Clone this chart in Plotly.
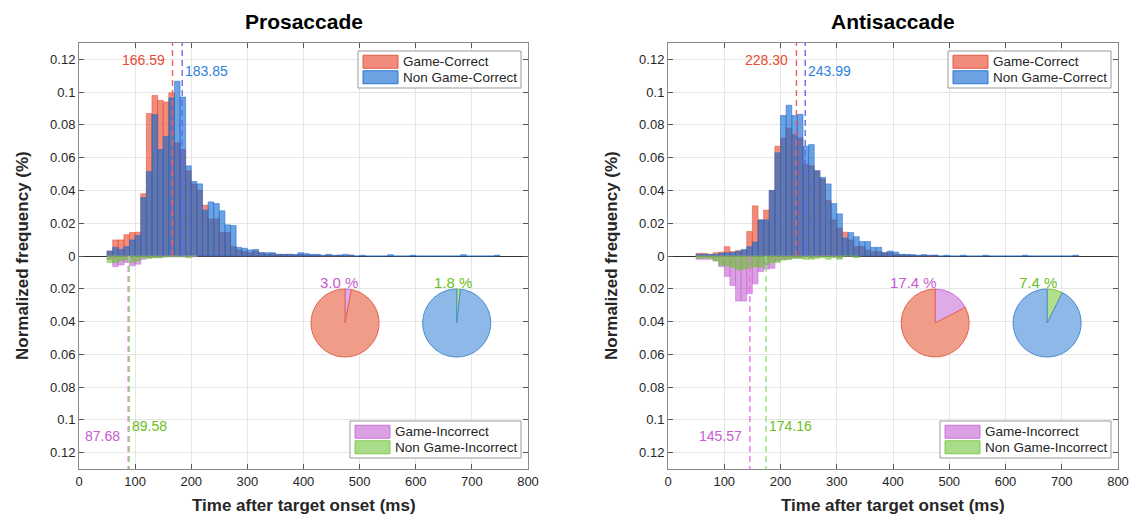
import plotly.graph_objects as go

# ---------------- data ----------------
BIN_START = 50
BIN_WIDTH = 10

pro_game_correct = [0.003, 0.0098, 0.0098, 0.013, 0.0143, 0.0145, 0.038, 0.087, 0.098, 0.095,
                    0.094, 0.0996, 0.069, 0.065, 0.052, 0.044, 0.040, 0.031, 0.0226, 0.0226,
                    0.0143, 0.0143, 0.0057, 0.0037, 0.0027, 0.002, 0.003, 0.002, 0.001, 0.0015,
                    0.001, 0.001, 0.001, 0.0005, 0.001, 0.0005, 0.0005, 0.0005, 0, 0.0005,
                    0, 0.0005, 0, 0.0005]
pro_nongame_correct = [0.003, 0.0053, 0.004, 0.0057, 0.0098, 0.0125, 0.0357, 0.0516,
                       0.0863, 0.065, 0.073, 0.0965, 0.1067, 0.097, 0.055, 0.0455,
                       0.044, 0.028, 0.033, 0.032, 0.0276, 0.019, 0.0186, 0.0053,
                       0.0047, 0.0037, 0.004, 0.002, 0.002, 0.002, 0.001, 0.001,
                       0.001, 0.001, 0.002, 0.0015, 0.001, 0.001, 0.0005, 0.001,
                       0.0005, 0.0005, 0.001, 0.0005, 0, 0.0005, 0, 0,
                       0, 0, 0.0008, 0, 0, 0, 0.0005, 0,
                       0, 0, 0, 0, 0, 0, 0, 0.0008,
                       0, 0, 0, 0, 0, 0.0005]
pro_game_incorrect = [0.002, 0.0065, 0.0055, 0.004, 0.006, 0.005, 0.002, 0.001, 0.001, 0.001,
                      0.0005, 0.0005, 0.0005, 0.0005, 0.0005, 0.0005]
pro_nongame_incorrect = [0.004, 0.004, 0.003, 0.0025, 0.004, 0.003, 0.001, 0.0015, 0.001, 0.001,
                         0.0005, 0, 0.0005, 0, 0.001, 0]

anti_game_correct = [0.0016, 0.0016, 0.001, 0.002, 0.0024, 0.0057, 0.0027, 0.0033, 0.0033, 0.015,
                     0.0306, 0.022, 0.028, 0.040, 0.067, 0.072, 0.078, 0.074, 0.072, 0.056,
                     0.055, 0.052, 0.047, 0.034, 0.022, 0.017, 0.0145, 0.0098, 0.0057, 0.0057,
                     0.0037, 0.0027, 0.0027, 0.002, 0.002, 0.001, 0.0008, 0.0005, 0.0005, 0,
                     0.0005, 0, 0.0005]
anti_nongame_correct = [0.001, 0.001, 0.001, 0.001, 0.0016, 0.002, 0.002, 0.0027, 0.004, 0.0057,
                        0.0085, 0.022, 0.022, 0.040, 0.063, 0.0857, 0.092, 0.0857, 0.0865, 0.067,
                        0.068, 0.052, 0.048, 0.044, 0.032, 0.0257, 0.011, 0.0143, 0.0118, 0.0088,
                        0.0088, 0.0053, 0.0053, 0.002, 0.003, 0.0024, 0.001, 0.001, 0.0008, 0.0005,
                        0.0008, 0.0005, 0.0005, 0, 0.0005, 0, 0, 0.0005, 0, 0,
                        0, 0.0005, 0, 0, 0, 0, 0, 0, 0.0005, 0,
                        0, 0, 0, 0, 0, 0, 0, 0.0005]
anti_game_incorrect = [0.002, 0.002, 0.002, 0.003, 0.0065, 0.0125, 0.018, 0.0275, 0.0275, 0.023,
                       0.017, 0.0095, 0.008, 0.0075, 0.003, 0.002, 0.002, 0.001, 0.001, 0.0005,
                       0.001, 0.0005, 0, 0, 0.0005, 0.001]
anti_nongame_incorrect = [0.0015, 0.001, 0.0015, 0.003, 0.0055, 0.006, 0.007, 0.0085, 0.008, 0.0075,
                          0.0065, 0.007, 0.0055, 0.004, 0.004, 0.0025, 0.002, 0.0015, 0.0015, 0.002,
                          0.002, 0.0015, 0.001, 0.002, 0.001, 0.002, 0, 0, 0.001]

pro_means = {"gc": 166.59, "ngc": 183.85, "gi": 87.68, "ngi": 89.58}
anti_means = {"gc": 228.30, "ngc": 243.99, "gi": 145.57, "ngi": 174.16}
pro_error_pct = {"game": 3.0, "nongame": 1.8}
anti_error_pct = {"game": 17.4, "nongame": 7.4}

series_names = ["Game-Correct", "Non Game-Correct", "Game-Incorrect", "Non Game-Incorrect"]
x_ticks = [0, 100, 200, 300, 400, 500, 600, 700, 800]
y_ticks = [-0.12, -0.1, -0.08, -0.06, -0.04, -0.02, 0, 0.02, 0.04, 0.06, 0.08, 0.1, 0.12]
y_ticktext = ["0.12", "0.1", "0.08", "0.06", "0.04", "0.02", "0", "0.02", "0.04", "0.06", "0.08", "0.1", "0.12"]

# ---------------- style ----------------
W, H = 1135, 519
FONT = "Liberation Sans, Arial, Helvetica, sans-serif"
TXT = "#262626"
C_GC = "rgba(232,70,40,0.62)"
C_GC_E = "rgba(225,80,55,0.9)"
C_NGC = "rgba(10,100,205,0.6)"
C_NGC_E = "rgba(30,110,210,0.9)"
C_GI = "rgba(190,80,205,0.55)"
C_GI_E = "rgba(200,110,215,0.9)"
C_NGI = "rgba(100,190,40,0.55)"
C_NGI_E = "rgba(120,200,70,0.9)"

L_GC = "rgb(240,95,95)"
L_NGC = "rgb(105,105,240)"
L_GI = "rgb(235,115,235)"
L_NGI = "rgb(140,230,120)"

T_GC = "rgb(232,75,45)"
T_NGC = "rgb(45,130,220)"
T_GI = "rgb(200,90,210)"
T_NGI = "rgb(105,190,35)"

PANELS = [
    dict(xa="x", ya="y", px=(79, 528), title="Prosaccade",
         data=(pro_game_correct, pro_nongame_correct, pro_game_incorrect, pro_nongame_incorrect),
         means=pro_means, pct=pro_error_pct,
         pie_ms=(474, 673), pct_ms=(463, 666)),
    dict(xa="x2", ya="y2", px=(668, 1118), title="Antisaccade",
         data=(anti_game_correct, anti_nongame_correct, anti_game_incorrect, anti_nongame_incorrect),
         means=anti_means, pct=anti_error_pct,
         pie_ms=(475, 674), pct_ms=(437, 658)),
]
TOP, BOT = 43, 469
YMAX = 0.13


def centers(n):
    return [BIN_START + BIN_WIDTH / 2 + BIN_WIDTH * i for i in range(n)]


def fx(p):
    return p / W


def fy(p):
    return 1 - p / H


fig = go.Figure()
annotations = []
shapes = []


def add_legend(right_px, top_px, names, fills, edges, box_w):
    row_h = 15.5
    box_h = 2 * row_h + 6
    left = right_px - box_w
    shapes.append(dict(type="rect", xref="paper", yref="paper",
                       x0=fx(left), x1=fx(right_px), y0=fy(top_px + box_h), y1=fy(top_px),
                       line=dict(color="#9a9a9a", width=1), fillcolor="white", layer="above"))
    for i, (nm, fc, ec) in enumerate(zip(names, fills, edges)):
        cy = top_px + 3 + row_h * (i + 0.5)
        shapes.append(dict(type="rect", xref="paper", yref="paper",
                           x0=fx(left + 5), x1=fx(left + 40), y0=fy(cy + 6.5), y1=fy(cy - 6.5),
                           line=dict(color=ec, width=1), fillcolor=fc, layer="above"))
        annotations.append(dict(x=fx(left + 43), y=fy(cy), xref="paper", yref="paper",
                                text=nm, showarrow=False, xanchor="left", yanchor="middle",
                                font=dict(family=FONT, size=13.5, color=TXT)))


for p in PANELS:
    gc, ngc, gi, ngi = p["data"]
    specs = [
        (gc, 1, series_names[0], C_GC, C_GC_E),
        (ngc, 1, series_names[1], C_NGC, C_NGC_E),
        (gi, -1, series_names[2], C_GI, C_GI_E),
        (ngi, -1, series_names[3], C_NGI, C_NGI_E),
    ]
    for vals, sign, name, col, ecol in specs:
        fig.add_trace(go.Bar(
            x=centers(len(vals)), y=[sign * v for v in vals], width=BIN_WIDTH,
            name=name, showlegend=False, xaxis=p["xa"], yaxis=p["ya"],
            marker=dict(color=col, line=dict(color=ecol, width=0.6)),
            hoverinfo="skip"))

    m = p["means"]
    for key, col, y0, y1 in [("gc", L_GC, 0, YMAX), ("ngc", L_NGC, 0, YMAX),
                             ("gi", L_GI, 0, -YMAX), ("ngi", L_NGI, 0, -YMAX)]:
        fig.add_trace(go.Scatter(
            x=[m[key], m[key]], y=[y0, y1], mode="lines", showlegend=False,
            xaxis=p["xa"], yaxis=p["ya"], hoverinfo="skip",
            line=dict(color=col, width=1.4, dash="6px,4px")))

    for key, col, yv, anchor, shift in [("gc", T_GC, 0.1195, "right", -6),
                                         ("ngc", T_NGC, 0.1130, "left", 1),
                                         ("gi", T_GI, -0.1100, "right", -6),
                                         ("ngi", T_NGI, -0.1040, "left", 1)]:
        annotations.append(dict(
            x=m[key], y=yv, xref=p["xa"], yref=p["ya"], text=f"{m[key]:.2f}",
            showarrow=False, xanchor=anchor, yanchor="middle", xshift=shift,
            font=dict(family=FONT, size=14, color=col)))

    # pies
    x0px, x1px = p["px"]
    sc = (x1px - x0px) / 800.0
    cy = 323
    r = 34
    pie_specs = [
        (p["pct"]["game"], ["rgba(222,170,232,1)", "rgba(239,156,136,1)"],
         ["rgb(205,110,215)", "rgb(228,100,75)"], T_GI),
        (p["pct"]["nongame"], ["rgba(178,224,138,1)", "rgba(142,184,232,1)"],
         ["rgb(120,195,60)", "rgb(70,140,212)"], T_NGI),
    ]
    for i, (pct, cols, ecols, tcol) in enumerate(pie_specs):
        cx = x0px + p["pie_ms"][i] * sc
        fig.add_trace(go.Pie(
            values=[pct, 100 - pct], sort=False, direction="counterclockwise", rotation=0,
            textinfo="none", hoverinfo="skip", showlegend=False, automargin=False,
            marker=dict(colors=cols, line=dict(color=ecols, width=1)),
            domain=dict(x=[(cx - r) / W, (cx + r) / W], y=[1 - (cy + r) / H, 1 - (cy - r) / H])))
        tx = x0px + p["pct_ms"][i] * sc
        annotations.append(dict(
            x=tx / W, y=1 - 282 / H, xref="paper", yref="paper", text=f"{pct:.1f} %",
            showarrow=False, xanchor="center", yanchor="middle",
            font=dict(family=FONT, size=15, color=tcol)))

    cxp = (x0px + x1px) / 2
    annotations.append(dict(x=cxp / W, y=1 - 22 / H, xref="paper", yref="paper",
                            text=f"<b>{p['title']}</b>", showarrow=False,
                            xanchor="center", yanchor="middle",
                            font=dict(family=FONT, size=21, color="black")))
    annotations.append(dict(x=cxp / W, y=1 - 505 / H, xref="paper", yref="paper",
                            text="<b>Time after target onset (ms)</b>", showarrow=False,
                            xanchor="center", yanchor="middle",
                            font=dict(family=FONT, size=17, color=TXT)))
    annotations.append(dict(x=(x0px - 57) / W, y=1 - ((TOP + BOT) / 2) / H, xref="paper", yref="paper",
                            text="<b>Normalized frequency (%)</b>", showarrow=False, textangle=-90,
                            xanchor="center", yanchor="middle",
                            font=dict(family=FONT, size=17, color=TXT)))

    # legends (drawn boxes, swatches and labels)
    add_legend(x1px - 7, 51, series_names[0:2], [C_GC, C_NGC], [C_GC_E, C_NGC_E], 163)
    add_legend(x1px - 7, 421, series_names[2:4], [C_GI, C_NGI], [C_GI_E, C_NGI_E], 171)

axis_common = dict(showline=True, linecolor="#8a8a8a", linewidth=1, mirror="allticks",
                   ticks="inside", ticklen=5, tickcolor="#555555", showgrid=True,
                   gridcolor="#e6e6e6", gridwidth=1, automargin=False,
                   tickfont=dict(family=FONT, size=13, color=TXT))

layout = dict(
    width=W, height=H, margin=dict(l=0, r=0, t=0, b=0, pad=0, autoexpand=False),
    paper_bgcolor="white", plot_bgcolor="white", barmode="overlay", bargap=0,
    annotations=annotations, shapes=shapes, font=dict(family=FONT, color=TXT),
    showlegend=False,
)
for p, n in zip(PANELS, ["", "2"]):
    x0px, x1px = p["px"]
    layout["xaxis" + n] = dict(axis_common, domain=[x0px / W, x1px / W], range=[0, 800],
                               tickvals=x_ticks, zeroline=False, anchor="y" + n)
    layout["yaxis" + n] = dict(axis_common, domain=[1 - BOT / H, 1 - TOP / H], range=[-YMAX, YMAX],
                               tickvals=y_ticks, ticktext=y_ticktext, zeroline=True,
                               zerolinecolor="#333333", zerolinewidth=1, anchor="x" + n)

fig.update_layout(**layout)

POST = (
    "document.documentElement.style.margin='0px';"
    "document.body.style.margin='0px';"
    "document.body.style.overflow='hidden';"
)
fig.write_html("out.html", post_script=POST,
               config={"displayModeBar": False, "staticPlot": True})
